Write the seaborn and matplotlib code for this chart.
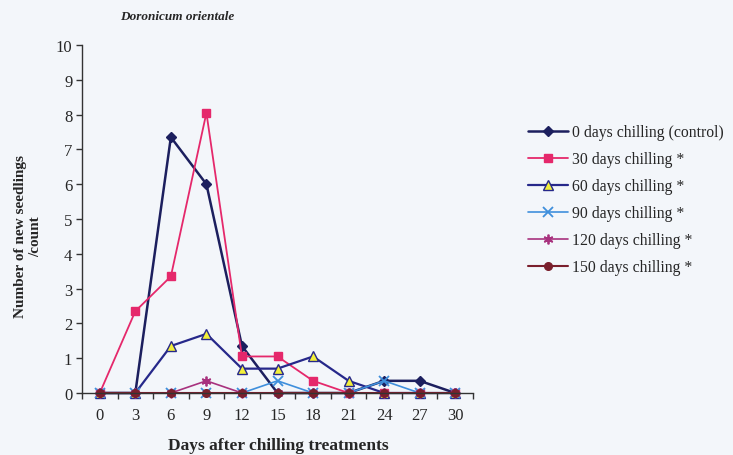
import numpy as np
import pandas as pd
import matplotlib
matplotlib.use("Agg")
import matplotlib.pyplot as plt
import seaborn as sns

# 데이터
days = [0, 3, 6, 9, 12, 15, 18, 21, 24, 27, 30]
chill_0 = [0, 0, 7.35, 6.0, 1.35, 0, 0, 0, 0.35, 0.35, 0]
chill_30 = [0, 2.35, 3.35, 8.05, 1.05, 1.05, 0.35, 0, 0, 0, 0]
chill_60 = [0, 0, 1.35, 1.7, 0.7, 0.7, 1.05, 0.35, 0, 0, 0]
chill_90 = [0, 0, 0, 0, 0, 0.35, 0, 0, 0.35, 0, 0]
chill_120 = [0, 0, 0, 0.35, 0, 0, 0, 0, 0, 0, 0]
chill_150 = [0, 0, 0, 0, 0, 0, 0, 0, 0, 0, 0]

labels = ["0 days chilling (control)", "30 days chilling *", "60 days chilling *",
          "90 days chilling *", "120 days chilling *", "150 days chilling *"]
series = [chill_0, chill_30, chill_60, chill_90, chill_120, chill_150]

styles = [
    dict(color="#1c1f5e", marker="D", mfc="#1c1f5e", mec="#1c1f5e", ms=5.5, lw=1.8),
    dict(color="#e5286b", marker="s", mfc="#e5286b", mec="#e5286b", ms=6, lw=1.3),
    dict(color="#26288a", marker="^", mfc="#f2ef3a", mec="#26288a", ms=6.5, lw=1.6),
    dict(color="#3f8fdc", marker="x", mfc="#3f8fdc", mec="#3f8fdc", ms=6.5, lw=1.2, mew=1.3),
    dict(color="#a8327e", marker=(6, 2, 0), mfc="#a8327e", mec="#a8327e", ms=7, lw=1.2, mew=1.3),
    dict(color="#7a1f2c", marker="o", mfc="#7a1f2c", mec="#7a1f2c", ms=5.5, lw=1.5),
]

sns.set_style("ticks")
plt.rcParams['font.family'] = ['Liberation Serif', 'DejaVu Serif']

fig = plt.figure(figsize=(7.33, 4.56), dpi=100)
fig.patch.set_facecolor("#f3f6fa")
ax = fig.add_axes([82 / 733, 1 - 394 / 456, (473 - 82) / 733, (394 - 46) / 456])
ax.set_facecolor("#f3f6fa")

for vals, lab, st in zip(series, labels, styles):
    df = pd.DataFrame({"day": days, "n": vals})
    sns.lineplot(data=df, x="day", y="n", ax=ax, label=lab,
                 color=st["color"], marker=st["marker"],
                 markerfacecolor=st["mfc"], markeredgecolor=st["mec"],
                 markersize=st["ms"], linewidth=st["lw"],
                 markeredgewidth=st.get("mew", 1.0), clip_on=False)

ax.set_xlim(-1.5, 31.5)
ax.set_ylim(0, 10)
ax.set_xticks(days)
ax.set_xticklabels([str(d) for d in days], fontsize=12)
ax.set_xticks(np.arange(-1.5, 32, 3), minor=True)
ax.tick_params(axis="x", which="major", length=0, pad=10)
ax.tick_params(axis="x", which="minor", length=4, width=1, color="#333333", direction="out")
ax.set_yticks(range(0, 11))
ax.set_yticklabels([str(v) for v in range(0, 11)], fontsize=12)
ax.tick_params(axis="y", length=4, width=1, color="#333333", direction="out", pad=3)

for s in ["top", "right"]:
    ax.spines[s].set_visible(False)
for s in ["left", "bottom"]:
    ax.spines[s].set_color("#333333")
    ax.spines[s].set_linewidth(1.0)

ax.set_xlabel("Days after chilling treatments", fontsize=12.5, fontweight="bold")
ax.xaxis.set_label_coords((278 - 82) / (473 - 82), -(446 - 394) / (394 - 46), transform=ax.transAxes)
ax.xaxis.label.set_va("center")
ax.set_ylabel("Number of new seedlings\n/count", fontsize=11, fontweight="bold")
ax.yaxis.set_label_coords(-(82 - 28) / (473 - 82), (394 - 237) / (394 - 46), transform=ax.transAxes)
ax.yaxis.label.set_va("center")
fig.text(120 / 733, 1 - 17 / 456, "Doronicum orientale", fontsize=9.5,
         fontweight="bold", fontstyle="italic", ha="left", va="center")

leg = ax.legend(loc="upper left", bbox_to_anchor=(522 / 733, 1 - 119 / 456),
                bbox_transform=fig.transFigure, frameon=False, fontsize=11.3,
                handlelength=2.5, labelspacing=0.7, handletextpad=0.3,
                borderaxespad=0)

fig.savefig("out.png", dpi=100, facecolor=fig.get_facecolor())
